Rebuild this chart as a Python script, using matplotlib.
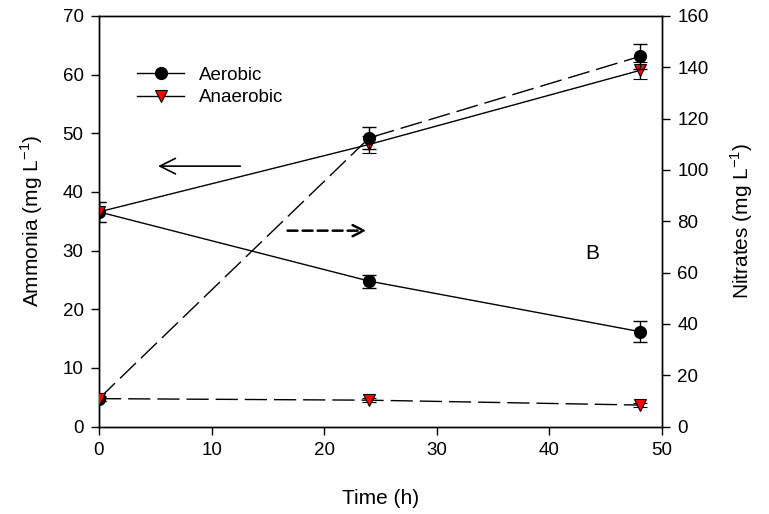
import matplotlib
matplotlib.use("Agg")
import matplotlib.pyplot as plt
from matplotlib.lines import Line2D

plt.rcParams['font.family'] = ['Liberation Sans', 'DejaVu Sans']

time_h = [0, 24, 48]
# Ammonia (left axis, solid lines)
nh4_aerobic = [36.6, 24.8, 16.2]
nh4_aerobic_err = [1.7, 1.1, 1.8]
nh4_anaerobic = [36.6, 48.1, 60.7]
nh4_anaerobic_err = [1.7, 1.4, 1.5]
# Nitrates (right axis, dashed lines)
no3_aerobic = [10.9, 112.5, 144.2]
no3_aerobic_err = [1.0, 4.2, 4.8]
no3_anaerobic = [10.9, 10.3, 8.4]
no3_anaerobic_err = [0.8, 0.8, 0.8]
series_names = ['Aerobic', 'Anaerobic']

fig = plt.figure(figsize=(7.69, 5.14), dpi=100)
ax = fig.add_axes([0.1287, 0.170, 0.7323, 0.799])
ax2 = ax.twinx()

ms = 8.5
circ = dict(marker='o', color='black', mfc='black', mec='black', ms=ms, lw=1.0)
tri = dict(marker='v', color='black', mfc='red', mec='black', ms=ms, mew=0.8, lw=1.0)
eb = dict(ecolor='black', elinewidth=1.0, capsize=5, capthick=1.0)

ax.errorbar(time_h, nh4_aerobic, yerr=nh4_aerobic_err, zorder=3, **circ, **eb)
ax.errorbar(time_h, nh4_anaerobic, yerr=nh4_anaerobic_err, zorder=4, **tri, **eb)

l1 = ax2.errorbar(time_h, no3_aerobic, yerr=no3_aerobic_err, zorder=3, **circ, **eb)
l1[0].set_dashes((16, 5))
l2 = ax2.errorbar(time_h, no3_anaerobic, yerr=no3_anaerobic_err, zorder=4, **tri, **eb)
l2[0].set_dashes((16, 5))

ax.set_xlim(0, 50)
ax.set_ylim(0, 70)
ax2.set_ylim(0, 160)
ax.set_xticks(range(0, 51, 10))
ax.set_yticks(range(0, 71, 10))
ax2.set_yticks(range(0, 161, 20))

for a in (ax, ax2):
    a.tick_params(direction='out', length=6, width=1, labelsize=13.5, pad=5)
    for s in a.spines.values():
        s.set_linewidth(1.0)

ax.set_xlabel('Time (h)', fontsize=15, labelpad=22)
ax.set_ylabel('Ammonia (mg L$^{\\mathregular{-1}}$)', fontsize=15, labelpad=13)
ax2.set_ylabel('Nitrates (mg L$^{\\mathregular{-1}}$)', fontsize=15, labelpad=14)

# arrows
ax.annotate('', xy=(5.0, 44.4), xytext=(12.8, 44.4),
            arrowprops=dict(arrowstyle='->', lw=1.2, color='black',
                            mutation_scale=28))
ax.annotate('', xy=(24.0, 33.4), xytext=(16.5, 33.4),
            arrowprops=dict(arrowstyle='->', lw=1.8, color='black', linestyle=(0, (4, 2)),
                            mutation_scale=20))

ax.text(43.8, 29.5, 'B', fontsize=15, ha='center', va='center')

handles = [Line2D([], [], **circ), Line2D([], [], **tri)]
ax.legend(handles, series_names, loc='upper left', bbox_to_anchor=(0.055, 0.895),
          frameon=False, fontsize=13.5, handlelength=2.5, handletextpad=0.8,
          labelspacing=0.3, borderaxespad=0)

fig.savefig('out.png', dpi=100)
